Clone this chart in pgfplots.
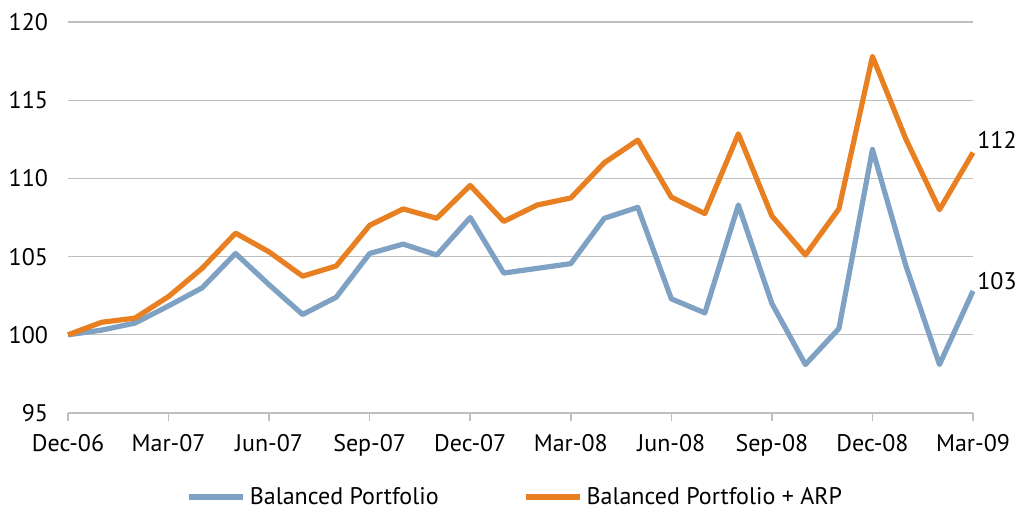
\documentclass[border=0pt]{standalone}
\usepackage{fontspec}
\setmainfont{PT Sans}
\usepackage{pgfplots}
\pgfplotsset{compat=1.18}
\definecolor{bpblue}{RGB}{127,161,196}
\definecolor{bporange}{RGB}{232,128,33}
\definecolor{gridgrey}{RGB}{191,191,191}
\begin{document}
\begin{tikzpicture}
\path[use as bounding box] (-34pt,-49pt) rectangle (476.5pt,206.5pt);
\begin{axis}[
  scale only axis,
  width=452.5pt, height=195.5pt,
  xmin=0, xmax=27, ymin=95, ymax=120,
  ytick={95,100,...,120},
  xtick={0,3,...,27},
  xticklabels={Dec-06,Mar-07,Jun-07,Sep-07,Dec-07,Mar-08,Jun-08,Sep-08,Dec-08,Mar-09},
  axis x line*=bottom, axis y line*=left,
  x axis line style={gridgrey, line width=0.8pt, -},
  y axis line style={draw=none},
  xtick style={gridgrey, line width=0.8pt},
  ytick style={draw=none},
  tick align=outside, major tick length=4pt,
  ymajorgrids, grid style={gridgrey, line width=0.6pt},
  font=\fontsize{12}{14}\selectfont,
  tick label style={font=\fontsize{12}{14}\selectfont},
  /pgf/number format/assume math mode=true,
  xticklabel style={yshift=-3pt},
  yticklabel style={xshift=-2.5pt},
  legend style={draw=none, at={(0.495,-0.215)}, anchor=center, legend columns=2,
    font=\fontsize{12}{14}\selectfont,
    /tikz/every even column/.append style={column sep=40pt}},
  legend image code/.code={\draw[#1, line width=3pt] (0pt,0pt) -- (27pt,0pt);},
  clip=false,
]
\addplot[bpblue, line width=2.6pt, line join=round] coordinates {
  (0,100) (1,100.3) (2,100.75) (3,101.85) (4,103.0) (5,105.2) (6,103.2) (7,101.3)
  (8,102.4) (9,105.2) (10,105.8) (11,105.1) (12,107.5) (13,103.95) (14,104.25)
  (15,104.55) (16,107.45) (17,108.15) (18,102.3) (19,101.4) (20,108.3) (21,102.0)
  (22,98.1) (23,100.4) (24,111.85) (25,104.4) (26,98.1) (27,102.8)
};
\addplot[bporange, line width=2.6pt, line join=round] coordinates {
  (0,100) (1,100.8) (2,101.07) (3,102.45) (4,104.25) (5,106.5) (6,105.3) (7,103.75)
  (8,104.4) (9,107.0) (10,108.05) (11,107.45) (12,109.55) (13,107.25) (14,108.3)
  (15,108.75) (16,111.0) (17,112.45) (18,108.8) (19,107.75) (20,112.85) (21,107.6)
  (22,105.1) (23,108.05) (24,117.8) (25,112.5) (26,108.0) (27,111.65)
};
\legend{Balanced Portfolio, Balanced Portfolio + ARP}
\node[anchor=west, inner sep=0pt, xshift=2pt, yshift=6.5pt] at (axis cs:27,111.65) {112};
\node[anchor=west, inner sep=0pt, xshift=2pt, yshift=5pt] at (axis cs:27,102.8) {103};
\end{axis}
\end{tikzpicture}
\end{document}
